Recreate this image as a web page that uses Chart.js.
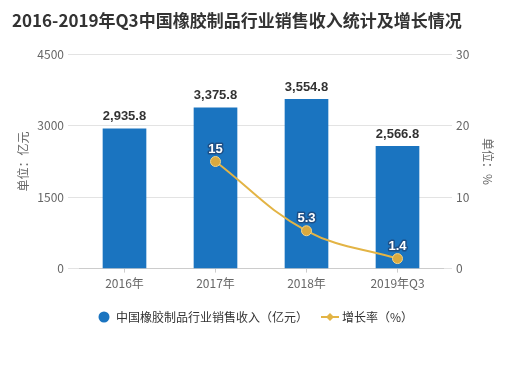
<!DOCTYPE html>
<html>
<head>
<meta charset="utf-8">
<script src="https://cdn.jsdelivr.net/npm/chart.js@4"></script>
<style>
  html, body { margin: 0; padding: 0; background: #fff; }
  #wrap { width: 505px; height: 368px; }
</style>
</head>
<body>
<div id="wrap"><canvas id="chart" width="505" height="368"></canvas></div>
<script>
// DATA
const categories = ["2016年", "2017年", "2018年", "2019年Q3"];
const revenue = [2935.8, 3375.8, 3554.8, 2566.8];
const growth = [null, 15, 5.3, 1.4];
const leftTicks = [0, 1500, 3000, 4500];
const rightTicks = [0, 10, 20, 30];

const BLUE = "#1a74c0";
const GOLD = "#e3b445";
const CJK = "'Noto Sans CJK SC', 'Liberation Sans', sans-serif";

// legend markers
function circleIcon() {
  const c = document.createElement("canvas");
  c.width = 12; c.height = 12;
  const g = c.getContext("2d");
  g.fillStyle = BLUE;
  g.beginPath(); g.arc(6, 6, 5.5, 0, Math.PI * 2); g.fill();
  return c;
}
function lineIcon() {
  const c = document.createElement("canvas");
  c.width = 18; c.height = 10;
  const g = c.getContext("2d");
  g.strokeStyle = GOLD; g.lineWidth = 2;
  g.beginPath(); g.moveTo(0, 5); g.lineTo(18, 5); g.stroke();
  g.fillStyle = GOLD;
  g.beginPath(); g.moveTo(9, 1); g.lineTo(13, 5); g.lineTo(9, 9); g.lineTo(5, 5); g.closePath(); g.fill();
  return c;
}

// value labels
const labelPlugin = {
  id: "valueLabels",
  afterDatasetsDraw(chart) {
    const ctx = chart.ctx;
    ctx.save();
    ctx.textAlign = "center";
    ctx.textBaseline = "middle";
    chart.getDatasetMeta(0).data.forEach((bar, i) => {
      ctx.font = "bold 13px 'Liberation Sans', Arial, sans-serif";
      ctx.fillStyle = "#333";
      ctx.fillText(revenue[i].toLocaleString("en-US", { minimumFractionDigits: 1 }), bar.x, bar.y - 12);
    });
    chart.getDatasetMeta(1).data.forEach((pt, i) => {
      if (growth[i] === null) return;
      ctx.font = "bold 13px 'Liberation Sans', Arial, sans-serif";
      ctx.lineWidth = 3;
      ctx.strokeStyle = "#1d4f86";
      ctx.lineJoin = "round";
      ctx.strokeText(String(growth[i]), pt.x, pt.y - 12);
      ctx.fillStyle = "#fff";
      ctx.fillText(String(growth[i]), pt.x, pt.y - 12);
    });
    ctx.restore();
  }
};

new Chart(document.getElementById("chart"), {
  data: {
    labels: categories,
    datasets: [
      {
        type: "bar",
        label: "中国橡胶制品行业销售收入（亿元）",
        data: revenue,
        backgroundColor: BLUE,
        barThickness: 43,
        yAxisID: "y",
        order: 2
      },
      {
        type: "line",
        label: "增长率（%）",
        data: growth,
        borderColor: GOLD,
        borderWidth: 2,
        backgroundColor: "#d9a93f",
        pointBackgroundColor: "#d9a93f",
        pointBorderColor: "#f0d48a",
        pointBorderWidth: 1,
        pointRadius: 5,
        tension: 0.4,
        yAxisID: "y1",
        order: 1
      }
    ]
  },
  options: {
    responsive: false,
    animation: false,
    layout: { padding: { left: 12, right: 6, top: 6, bottom: 35 } },
    plugins: {
      title: {
        display: true,
        text: "2016-2019年Q3中国橡胶制品行业销售收入统计及增长情况",
        align: "start",
        color: "#333",
        font: { family: CJK, size: 17, weight: "bold" },
        padding: { top: 4, bottom: 24 }
      },
      legend: {
        position: "bottom",
        labels: {
          usePointStyle: true,
          color: "#333",
          font: { family: CJK, size: 12 },
          padding: 16,
          generateLabels(chart) {
            return chart.data.datasets.map((ds, i) => ({
              text: ds.label,
              pointStyle: i === 0 ? circleIcon() : lineIcon(),
              fillStyle: "transparent",
              strokeStyle: "transparent",
              lineWidth: 0,
              datasetIndex: i,
              fontColor: "#333"
            }));
          }
        }
      },
      tooltip: { enabled: false }
    },
    scales: {
      x: {
        offset: true,
        grid: { display: true, drawOnChartArea: false, offset: false, tickLength: 4, color: "#ccc" },
        border: { color: "#ccc" },
        ticks: { color: "#666", font: { family: CJK, size: 12 }, padding: 4 }
      },
      y: {
        position: "left",
        min: 0, max: 4500,
        afterBuildTicks(s) { s.ticks = leftTicks.map(v => ({ value: v })); },
        afterFit(s) { s.width = 67; },
        grid: { color: "#e3e3e3", drawTicks: true, tickLength: 11 },
        border: { display: false },
        ticks: { color: "#666", font: { family: CJK, size: 12 }, padding: 4, callback: v => String(v) },
        title: { display: true, text: "单位：亿元", color: "#666", font: { family: CJK, size: 12 } }
      },
      y1: {
        position: "right",
        min: 0, max: 30,
        afterBuildTicks(s) { s.ticks = rightTicks.map(v => ({ value: v })); },
        afterFit(s) { s.width = 56; },
        grid: { drawOnChartArea: false, color: "#e3e3e3", tickLength: 9 },
        border: { display: false },
        ticks: { color: "#666", font: { family: CJK, size: 12 }, padding: 4, callback: v => String(v) },
        title: { display: true, text: "单位：%", color: "#666", font: { family: CJK, size: 12 } }
      }
    }
  },
  plugins: [labelPlugin]
});
</script>
</body>
</html>
